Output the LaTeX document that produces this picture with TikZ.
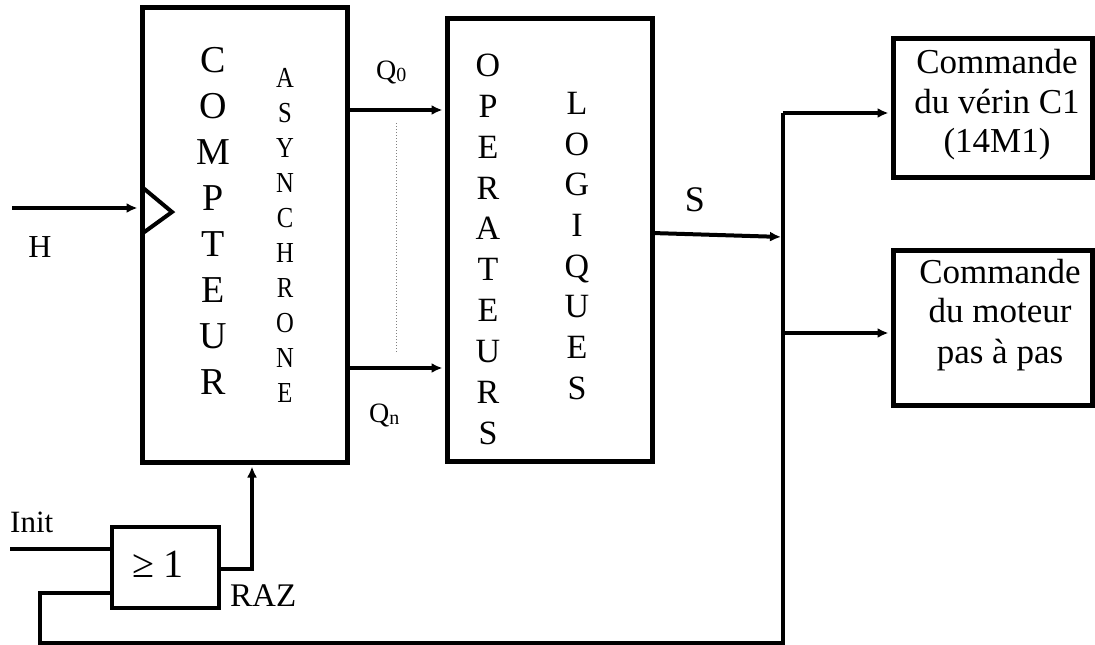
\documentclass[tikz,border=0pt]{standalone}
\usepackage{fontspec}
\setmainfont{Liberation Serif}
\usetikzlibrary{arrows.meta}
\newcommand\myfs[2]{\fontsize{#1}{#2}\selectfont}
\begin{document}
\begin{tikzpicture}[x=1pt,y=-1pt,
  box/.style={draw, line width=5pt, rectangle, inner sep=0pt},
  wire/.style={line width=4pt},
  arr/.style={wire, -{Latex[length=11pt,width=10pt]}, shorten >=2pt},
  lab/.style={inner sep=0pt, anchor=base}]
\useasboundingbox (0,0) rectangle (1095,645);
% blocks
\node[box, minimum width=205pt, minimum height=455pt] (cpt) at (244.5,234.5) {};
\node[box, minimum width=205pt, minimum height=443pt] (ops) at (549.5,239.5) {};
\node[box, minimum width=199pt, minimum height=139pt] (cmd1) at (992.5,107.5) {};
\node[box, minimum width=199pt, minimum height=155pt] (cmd2) at (992.5,327.5) {};
\node[draw, line width=4.5pt, rectangle, inner sep=0pt, minimum width=107pt, minimum height=81pt] (gate) at (165.5,567.5) {};
% clock triangle
\coordinate (ck1) at (142,187);
\coordinate (ck2) at (172,212);
\coordinate (ck3) at (143,233);
\draw[line width=4pt] (ck1) -- (ck2) -- (ck3);
% vertical letters
\foreach \l [count=\i] in {C,O,M,P,T,E,U,R}
  \node[lab, font=\myfs{38}{38}] (cp\i) at (213,72.5+46*\i-46) {\l};
\foreach \l [count=\i] in {A,S,Y,N,C,H,R,O,N,E}
  \node[lab, font=\myfs{29}{29}] (as\i) at (285,87+35*\i-35) {\scalebox{0.85}[1]{\l}};
\foreach \l [count=\i] in {O,P,E,R,A,T,E,U,R,S}
  \node[lab, font=\myfs{34}{34}] (op\i) at (488,76.3+40.9*\i-40.9) {\l};
\foreach \l [count=\i] in {L,O,G,I,Q,U,E,S}
  \node[lab, font=\myfs{34}{34}] (lo\i) at (577,114.3+40.7*\i-40.7) {\l};
% right box texts
\node[lab, font=\myfs{35}{35}] (t11) at (997,73) {Commande};
\node[lab, font=\myfs{35}{35}] (t12) at (997,113) {du vérin C1};
\node[lab, font=\myfs{35}{35}] (t13) at (997,152) {(14M1)};
\node[lab, font=\myfs{35}{35}] (t21) at (1000,283) {Commande};
\node[lab, font=\myfs{35}{35}] (t22) at (1000,322) {du moteur};
\node[lab, font=\myfs{35}{35}] (t23) at (1000,363) {pas à pas};
% labels
\node[lab, font=\myfs{32}{32}] (hl) at (40,257) {H};
\node[lab, anchor=base west, font=\myfs{28}{28}] (q0l) at (376,79) {Q\raisebox{-2pt}{\myfs{20}{20}0}};
\node[lab, anchor=base west, font=\myfs{28}{28}] (qnl) at (369,422) {Q\raisebox{-2pt}{\myfs{20}{20}n}};
\node[lab, font=\myfs{36}{36}] (sl) at (695,211) {S};
\node[lab, anchor=base west, font=\myfs{31}{31}] (il) at (10,532) {Init};
\node[lab, font=\myfs{40}{40}] (gl) at (158,577) {≥ 1};
\node[lab, anchor=base west, font=\myfs{33}{33}] (rl) at (230,606) {RAZ};
% connectors
\coordinate (hin) at (12,208);
\draw[arr] (hin) -- (hin -| cpt.west);
\coordinate (q0) at (400,110);
\draw[arr] (q0 -| cpt.east) -- (q0 -| ops.west);
\coordinate (qn) at (400,368);
\draw[arr] (qn -| cpt.east) -- (qn -| ops.west);
\coordinate (d1) at (396,123);
\coordinate (d2) at (396,353);
\draw[dotted, line width=1pt, gray] (d1) -- (d2);
\coordinate (sin) at (652,233);
\coordinate (sto) at (783,237);
\draw[arr] (sin) -- (sto);
\coordinate (btop) at (783,113);
\coordinate (bbot) at (783,643);
\coordinate (b2) at (783,333);
\coordinate (fb) at (40,593);
\draw[arr] (btop) -- (btop -| cmd1.west);
\draw[arr] (b2) -- (b2 -| cmd2.west);
\draw[wire] (btop) -- (bbot) -| (fb) -- (fb -| gate.west);
\coordinate (init) at (10,549);
\draw[wire] (init) -- (init -| gate.west);
\coordinate (rz) at (252,569);
\draw[arr] (gate.east |- rz) -- (rz) -- (rz |- cpt.south);
\end{tikzpicture}
\end{document}
